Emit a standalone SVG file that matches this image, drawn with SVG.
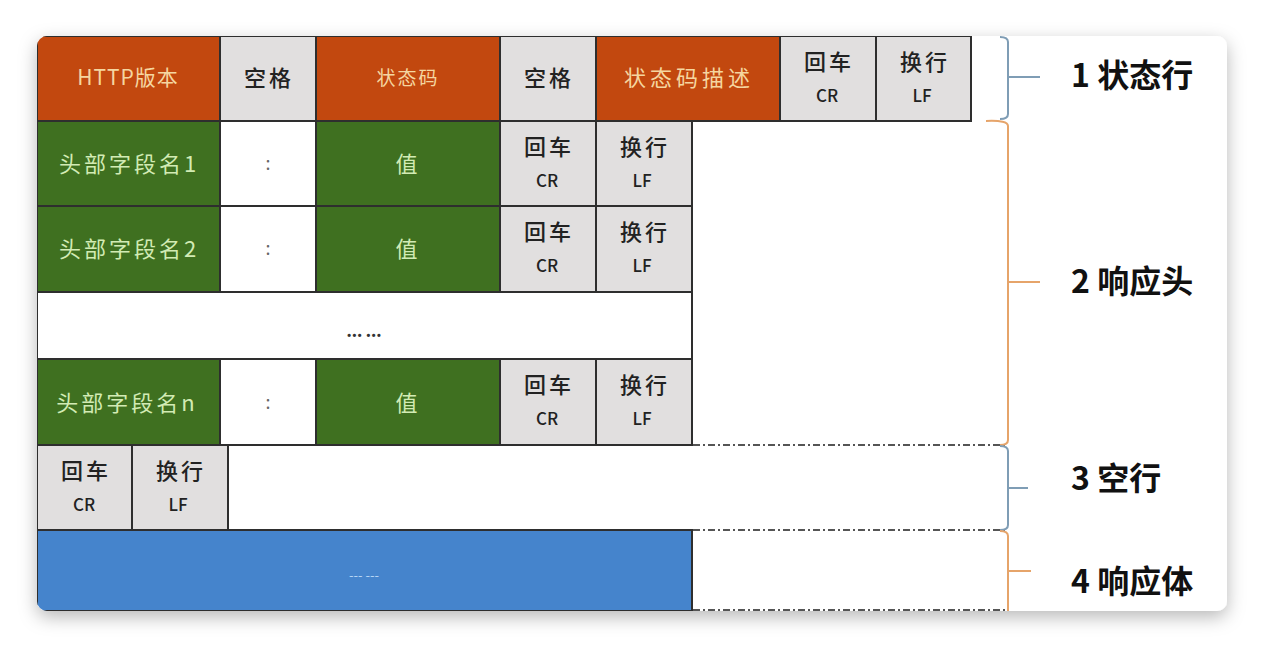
<svg xmlns="http://www.w3.org/2000/svg" width="1264" height="648" viewBox="0 0 1264 648">
<defs>
  <filter id="shadow" x="-5%" y="-10%" width="110%" height="125%">
    <feDropShadow dx="0" dy="6" stdDeviation="9" flood-color="#000" flood-opacity="0.28"/>
  </filter>
  <clipPath id="card">
    <rect x="37" y="36" width="1190" height="575" rx="10"/>
  </clipPath>
  <style>
    text { font-family: "Noto Sans CJK SC", "Noto Sans", sans-serif; text-anchor: middle; }
    .cell { stroke: #2e2e2e; stroke-width: 2; }
    .orange { fill: #c2480f; }
    .green { fill: #3f7020; }
    .gray { fill: #e1dfdf; }
    .white { fill: #ffffff; }
    .blue { fill: #4584cc; }
    .t-or { fill: #f5d6a0; font-size: 19px; }
    .t-gr { fill: #d2ebb4; font-size: 22px; letter-spacing: 3px; }
    .t-bk { fill: #222; font-size: 22px; letter-spacing: 3px; font-weight: 500; }
    .t-sm { fill: #222; font-size: 17px; font-weight: 500; }
    .t-colon { fill: #666; font-size: 18px; }
    .lbl { fill: #111; font-size: 32px; font-weight: 700; text-anchor: start; }
    .dash { stroke: #555; stroke-width: 2; stroke-dasharray: 7 3 2 3; fill: none; }
    .br-blue { stroke: #7f9db5; stroke-width: 2; fill: none; }
    .br-orange { stroke: #e6a46a; stroke-width: 2; fill: none; }
  </style>
</defs>
<rect x="0" y="0" width="1264" height="648" fill="#ffffff"/>
<rect x="37" y="36" width="1190" height="575" rx="10" fill="#ffffff" filter="url(#shadow)"/>
<g clip-path="url(#card)">
  <g id="status-line">
    <rect class="cell orange" x="37" y="36" width="183" height="85"/>
    <text class="t-or" x="128" y="85" style="font-size:21px;letter-spacing:1px">HTTP版本</text>
    <rect class="cell gray" x="220" y="36" width="96" height="85"/>
    <text class="t-bk" x="269" y="86">空格</text>
    <rect class="cell orange" x="316" y="36" width="184" height="85"/>
    <text class="t-or" x="408" y="85" style="letter-spacing:2px">状态码</text>
    <rect class="cell gray" x="500" y="36" width="96" height="85"/>
    <text class="t-bk" x="549" y="86">空格</text>
    <rect class="cell orange" x="596" y="36" width="184" height="85"/>
    <text class="t-or" x="689" y="86" style="font-size:22px;letter-spacing:4px">状态码描述</text>
    <rect class="cell gray" x="780" y="36" width="96" height="85"/>
    <text class="t-bk" x="829" y="70">回车</text>
    <text class="t-sm" x="827" y="102">CR</text>
    <rect class="cell gray" x="876" y="36" width="95" height="85"/>
    <text class="t-bk" x="925" y="70">换行</text>
    <text class="t-sm" x="922" y="102">LF</text>
  </g>
  <g id="header-1">
    <rect class="cell green" x="37" y="121" width="183" height="85"/>
    <text class="t-gr" x="129" y="172">头部字段名1</text>
    <rect class="cell white" x="220" y="121" width="96" height="85"/>
    <text class="t-colon" x="268" y="170">:</text>
    <rect class="cell green" x="316" y="121" width="184" height="85"/>
    <text class="t-gr" x="408" y="172">值</text>
    <rect class="cell gray" x="500" y="121" width="96" height="85"/>
    <text class="t-bk" x="549" y="155">回车</text>
    <text class="t-sm" x="547" y="187">CR</text>
    <rect class="cell gray" x="596" y="121" width="96" height="85"/>
    <text class="t-bk" x="645" y="155">换行</text>
    <text class="t-sm" x="642" y="187">LF</text>
  </g>
  <g id="header-2">
    <rect class="cell green" x="37" y="206" width="183" height="86"/>
    <text class="t-gr" x="129" y="257">头部字段名2</text>
    <rect class="cell white" x="220" y="206" width="96" height="86"/>
    <text class="t-colon" x="268" y="255">:</text>
    <rect class="cell green" x="316" y="206" width="184" height="86"/>
    <text class="t-gr" x="408" y="257">值</text>
    <rect class="cell gray" x="500" y="206" width="96" height="86"/>
    <text class="t-bk" x="549" y="240">回车</text>
    <text class="t-sm" x="547" y="272">CR</text>
    <rect class="cell gray" x="596" y="206" width="96" height="86"/>
    <text class="t-bk" x="645" y="240">换行</text>
    <text class="t-sm" x="642" y="272">LF</text>
  </g>
  <g id="header-ellipsis">
    <rect class="cell white" x="37" y="292" width="655" height="67"/>
    <text x="364" y="337" style="fill:#333;font-size:15px;font-weight:900">... ...</text>
  </g>
  <g id="header-n">
    <rect class="cell green" x="37" y="359" width="183" height="86"/>
    <text class="t-gr" x="127" y="411">头部字段名n</text>
    <rect class="cell white" x="220" y="359" width="96" height="86"/>
    <text class="t-colon" x="268" y="409">:</text>
    <rect class="cell green" x="316" y="359" width="184" height="86"/>
    <text class="t-gr" x="408" y="411">值</text>
    <rect class="cell gray" x="500" y="359" width="96" height="86"/>
    <text class="t-bk" x="549" y="393">回车</text>
    <text class="t-sm" x="547" y="425">CR</text>
    <rect class="cell gray" x="596" y="359" width="96" height="86"/>
    <text class="t-bk" x="645" y="393">换行</text>
    <text class="t-sm" x="642" y="425">LF</text>
  </g>
  <g id="empty-line">
    <rect class="cell gray" x="37" y="445" width="95" height="85"/>
    <text class="t-bk" x="86" y="479">回车</text>
    <text class="t-sm" x="84" y="511">CR</text>
    <rect class="cell gray" x="132" y="445" width="96" height="85"/>
    <text class="t-bk" x="181" y="479">换行</text>
    <text class="t-sm" x="178" y="511">LF</text>
    <line x1="228" y1="445" x2="228" y2="530" stroke="#2e2e2e" stroke-width="2"/>
  </g>
  <g id="body">
    <rect class="cell blue" x="37" y="530" width="655" height="81"/>
    <text x="364" y="580" style="fill:#b5d6f5;font-size:13px">--- ---</text>
  </g>
</g>
<g id="connectors">
  <line class="dash" x1="693" y1="445" x2="1008" y2="445"/>
  <line class="dash" x1="693" y1="530" x2="1008" y2="530"/>
  <line class="dash" x1="693" y1="610" x2="1008" y2="610"/>
  <path class="br-blue" d="M1000 37 Q1008 37 1008 42 V114 Q1008 119 1000 119 M1008 77 H1040"/>
  <path class="br-orange" d="M986 121 Q1008 120 1008 126 V440 Q1008 445 1000 445 M1008 282 H1040"/>
  <path class="br-blue" d="M1000 446 Q1008 446 1008 451 V525 Q1008 530 1000 530 M1008 488 H1028"/>
  <path class="br-orange" d="M1000 531 Q1008 531 1008 536 V611 M1008 571 H1031"/>
</g>
<g id="labels">
  <text class="lbl" x="1071" y="87">1 状态行</text>
  <text class="lbl" x="1071" y="293">2 响应头</text>
  <text class="lbl" x="1071" y="490">3 空行</text>
  <text class="lbl" x="1071" y="593">4 响应体</text>
</g>
</svg>
